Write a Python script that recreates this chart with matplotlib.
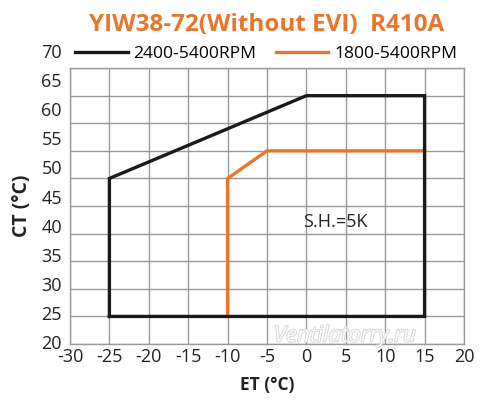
import matplotlib
matplotlib.use('Agg')
import matplotlib.pyplot as plt
import matplotlib.transforms as mtransforms
import matplotlib.patheffects as pe

plt.rcParams['font.family'] = ['Open Sans', 'DejaVu Sans']
plt.rcParams['axes.unicode_minus'] = False

# envelope data (ET, CT) in degC
et_2400 = [-25, -25, 0, 15, 15, -25]
ct_2400 = [25, 50, 65, 65, 25, 25]
et_1800 = [-10, -10, -5, 15]
ct_1800 = [25, 50, 55, 55]

x_ticks = list(range(-30, 21, 5))
y_ticks = list(range(20, 71, 5))

title = 'YIW38-72(Without EVI)  R410A'
orange = '#E8762B'
grid_col = '#9a9a9a'
txt_col = '#222222'

fig = plt.figure(figsize=(5, 4.15), dpi=100)
ax = fig.add_axes([0.14, 0.171, 0.788, 0.665])

ax.plot(et_2400, ct_2400, color='#1a1a1a', lw=2.4, label='2400-5400RPM',
        solid_joinstyle='miter', zorder=3)
ax.plot(et_1800, ct_1800, color=orange, lw=2.4, label='1800-5400RPM',
        solid_joinstyle='miter', zorder=2)

ax.set_xlim(-30, 20)
ax.set_ylim(20, 70)
ax.set_xticks(x_ticks)
ax.set_yticks(y_ticks)
ax.grid(True, color=grid_col, lw=1.0)
ax.set_axisbelow(True)
for s in ax.spines.values():
    s.set_color(grid_col)
    s.set_linewidth(1.0)
ax.tick_params(length=0, labelsize=13, colors=txt_col, pad=3)
ax.set_yticklabels([])

# y labels in the source are spread a bit wider than the grid
stretch = 291 / 276
ytrans = mtransforms.offset_copy(ax.get_yaxis_transform(), fig=fig, x=-8, y=0, units='dots')
for v in y_ticks:
    ax.text(0, 20 + (v - 20) * stretch, str(v), transform=ytrans, ha='right', va='center',
            fontsize=13, color=txt_col, clip_on=False)

ax.text(-0.4, 42.2, 'S.H.=5K', fontsize=13, color=txt_col, ha='left', va='center')

ax.set_xlabel('ET (°C)', fontsize=12.5, fontweight='bold', color=txt_col, labelpad=7)
ax.set_ylabel('CT (°C)', fontsize=14, fontweight='bold', color=txt_col, labelpad=24)

fig.text(0.533, 0.94, title, fontsize=17.5, fontweight='bold', color=orange,
         ha='center', va='center')

fig.legend(loc='center left', bbox_to_anchor=(0.15, 0.87), ncol=2, frameon=False,
           fontsize=12.6, handlelength=3.0, handletextpad=0.35, columnspacing=1.1,
           borderaxespad=0, borderpad=0)

# watermark
fig.text(0.69, 0.19, 'Ventilatorry.ru', fontsize=16, style='italic', color='white',
         ha='center', va='center', alpha=0.9,
         path_effects=[pe.withStroke(linewidth=1.2, foreground='#cfcfcf')])

fig.savefig('out.png', dpi=100)
